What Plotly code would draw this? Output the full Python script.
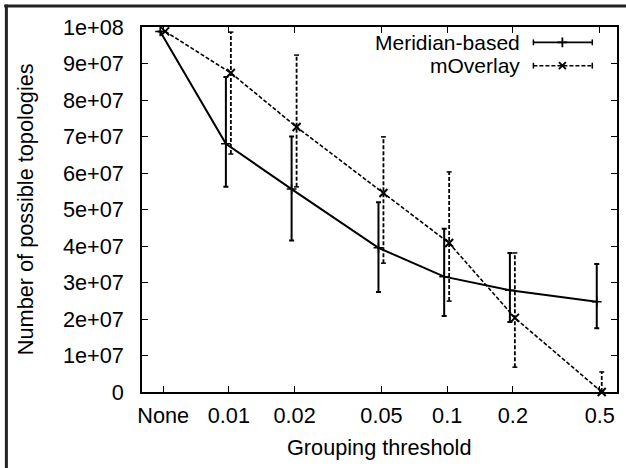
import plotly.graph_objects as go

# Grouping thresholds ("None" is placed at 0.005 on the log axis)
thresholds = [0.005, 0.01, 0.02, 0.05, 0.1, 0.2, 0.5]
tick_labels = ["None", "0.01", "0.02", "0.05", "0.1", "0.2", "0.5"]

meridian_mean = [9.88e7, 6.80e7, 5.56e7, 3.95e7, 3.16e7, 2.79e7, 2.47e7]
meridian_high = [9.88e7, 8.63e7, 7.00e7, 5.20e7, 4.47e7, 3.81e7, 3.51e7]
meridian_low = [9.88e7, 5.62e7, 4.15e7, 2.74e7, 2.08e7, 1.92e7, 1.75e7]

moverlay_mean = [9.88e7, 8.74e7, 7.26e7, 5.45e7, 4.08e7, 2.03e7, 0.0]
moverlay_high = [9.88e7, 9.86e7, 9.23e7, 6.99e7, 6.03e7, 3.81e7, 0.55e7]
moverlay_low = [9.88e7, 6.52e7, 5.62e7, 3.53e7, 2.49e7, 0.68e7, 0.0]

y_ticks = [i * 1e7 for i in range(11)]
y_tick_labels = ["0"] + [f"{i}e+07" for i in range(1, 10)] + ["1e+08"]

FONT = "Liberation Sans, Arial, Helvetica, sans-serif"
FS = 21.7
KEY_FS = 21

# small horizontal shift of the two series so their error bars do not overlap
px_per_decade = 219.0
meridian_shift = 10 ** (-3 / px_per_decade)
moverlay_shift = 10 ** (2 / px_per_decade)
cap_half = 10 ** (2.5 / px_per_decade)

x_mer = [x * meridian_shift for x in thresholds]
x_mov = [x * moverlay_shift for x in thresholds]

fig = go.Figure()

# Meridian-based: solid line with asymmetric error bars
fig.add_trace(go.Scatter(
    x=x_mer, y=meridian_mean, mode="lines+markers", name="Meridian-based",
    line=dict(color="black", width=2),
    marker=dict(symbol="cross-thin", size=7, line=dict(color="black", width=1.5)),
    error_y=dict(type="data", symmetric=False,
                 array=[h - m for h, m in zip(meridian_high, meridian_mean)],
                 arrayminus=[m - l for m, l in zip(meridian_mean, meridian_low)],
                 color="black", thickness=2, width=2.5),
    cliponaxis=False, showlegend=False,
))

# mOverlay: dashed error bars built as segments
bar_x, bar_y, cap_x, cap_y = [], [], [], []
for x, lo, hi in zip(x_mov, moverlay_low, moverlay_high):
    if hi == lo:
        continue
    bar_x += [x, x, None]
    bar_y += [lo, hi, None]
    for v in (lo, hi):
        cap_x += [x / cap_half, x * cap_half, None]
        cap_y += [v, v, None]

fig.add_trace(go.Scatter(
    x=bar_x, y=bar_y, mode="lines",
    line=dict(color="black", width=1.8, dash="4px,2px"),
    cliponaxis=False, showlegend=False, hoverinfo="skip",
))
fig.add_trace(go.Scatter(
    x=cap_x, y=cap_y, mode="lines",
    line=dict(color="black", width=1.5),
    cliponaxis=False, showlegend=False, hoverinfo="skip",
))
fig.add_trace(go.Scatter(
    x=x_mov, y=moverlay_mean, mode="lines+markers", name="mOverlay",
    line=dict(color="black", width=1.6, dash="4px,2px"),
    marker=dict(symbol="x-thin", size=8, line=dict(color="black", width=2)),
    cliponaxis=False, showlegend=False,
))

# Key drawn on an overlay axis in [0, 1] x [0, 1] units of the plot area
key_x0, key_x1, key_xm = 0.824, 0.948, 0.885
key_rows = [(0.958, "solid", "cross-thin", 7, "Meridian-based"),
            (0.894, "4px,2px", "x-thin", 7, "mOverlay")]
for ky, dash, sym, msize, label in key_rows:
    fig.add_trace(go.Scatter(
        x=[key_x0, key_x1], y=[ky, ky], xaxis="x2", yaxis="y2", mode="lines",
        line=dict(color="black", width=1.6, dash=dash),
        showlegend=False, hoverinfo="skip",
    ))
    fig.add_trace(go.Scatter(
        x=[key_x0, key_x0, None, key_x1, key_x1], y=[ky - 0.008, ky + 0.008, None, ky - 0.008, ky + 0.008],
        xaxis="x2", yaxis="y2", mode="lines",
        line=dict(color="black", width=1.5),
        showlegend=False, hoverinfo="skip",
    ))
    fig.add_trace(go.Scatter(
        x=[key_xm], y=[ky], xaxis="x2", yaxis="y2", mode="markers",
        marker=dict(symbol=sym, size=msize, line=dict(color="black", width=1.8)),
        showlegend=False, hoverinfo="skip",
    ))
    fig.add_annotation(x=0.797, y=ky, xref="paper", yref="paper", text=label,
                       showarrow=False, xanchor="right", yanchor="middle",
                       borderpad=0,
                       font=dict(family=FONT, size=KEY_FS, color="black"))

axis_common = dict(
    showline=True, linecolor="black", linewidth=1.5, mirror="allticks",
    ticks="inside", ticklen=6, tickwidth=1, tickcolor="black",
    showgrid=False, zeroline=False,
    tickfont=dict(family=FONT, size=FS, color="black"),
)

fig.update_layout(
    width=626, height=468,
    margin=dict(l=142, r=7, t=27, b=76),
    paper_bgcolor="white", plot_bgcolor="white",
    xaxis=dict(type="log", range=[-2.398, -0.222],
               tickmode="array", tickvals=thresholds, ticktext=tick_labels,
               ticklabelstandoff=3, **axis_common),
    yaxis=dict(range=[0, 1e8], tickmode="array", tickvals=y_ticks, ticktext=y_tick_labels,
               ticklabelstandoff=12, **axis_common),
    xaxis2=dict(overlaying="x", range=[0, 1], visible=False, fixedrange=True),
    yaxis2=dict(overlaying="y", range=[0, 1], visible=False, fixedrange=True),
    showlegend=False,
)

# Axis titles
fig.add_annotation(x=-0.245, y=0.5, xref="paper", yref="paper",
                   text="Number of possible topologies", textangle=-90,
                   showarrow=False, xanchor="center", yanchor="middle",
                   font=dict(family=FONT, size=FS, color="black"))
fig.add_annotation(x=0.499, y=-0.151, xref="paper", yref="paper",
                   text="Grouping threshold", showarrow=False,
                   xanchor="center", yanchor="middle",
                   font=dict(family=FONT, size=FS, color="black"))

# Page frame lines along the top and left edges
fig.add_shape(type="line", xref="paper", yref="paper",
              x0=-0.29, x1=1.02, y0=1.0575, y1=1.0575,
              line=dict(color="#222222", width=3))
fig.add_shape(type="line", xref="paper", yref="paper",
              x0=-0.2855, x1=-0.2855, y0=-0.22, y1=1.0615,
              line=dict(color="#222222", width=3))

fig.write_html("out.html")
